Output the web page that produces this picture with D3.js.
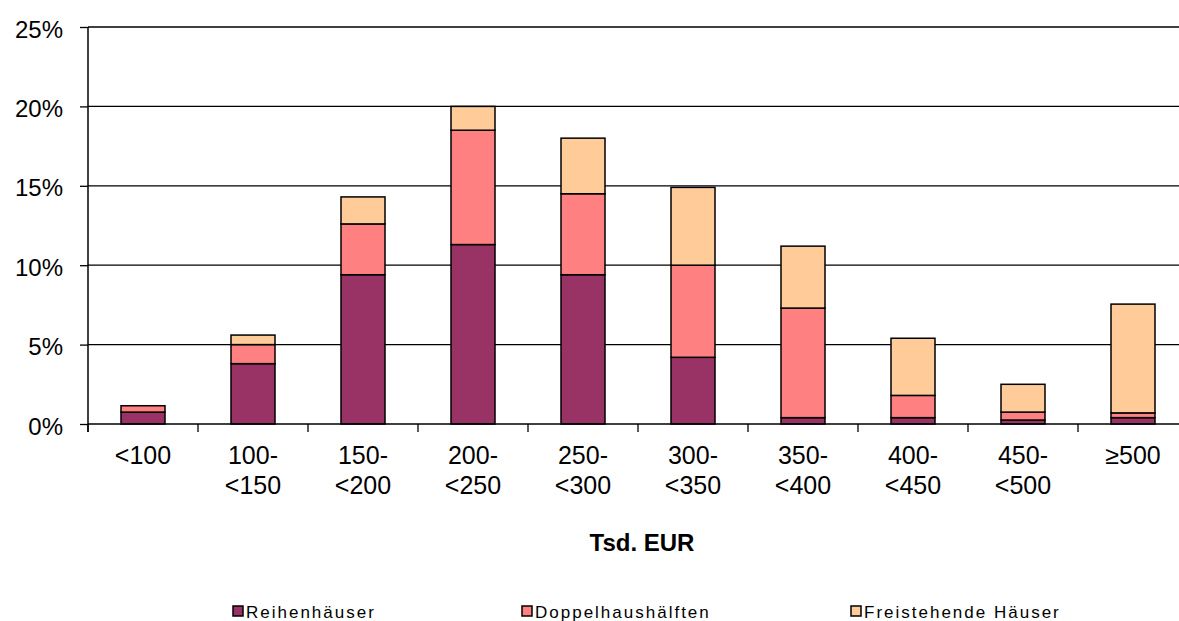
<!DOCTYPE html>
<html><head><meta charset="utf-8">
<script src="https://cdn.jsdelivr.net/npm/d3@7"></script>
<style>
html,body{margin:0;padding:0;background:#fff;overflow:hidden;}
svg{display:block;font-family:Arial,"Liberation Sans",sans-serif;}
</style></head>
<body>
<svg id="chart" width="1179" height="621"></svg>
<script>
const categories = [["<100"],["100-","<150"],["150-","<200"],["200-","<250"],["250-","<300"],["300-","<350"],["350-","<400"],["400-","<450"],["450-","<500"],["≥500"]];
const seriesNames = ["Reihenhäuser","Doppelhaushälften","Freistehende Häuser"];
const reihen = [0.75, 3.8, 9.4, 11.3, 9.4, 4.2, 0.4, 0.4, 0.25, 0.4];
const doppel = [0.4, 1.2, 3.2, 7.2, 5.1, 5.8, 6.9, 1.4, 0.5, 0.3];
const frei   = [0.0, 0.6, 1.7, 1.5, 3.5, 4.9, 3.9, 3.6, 1.75, 6.85];
const yTicks = [0,5,10,15,20,25];
const colors = ["#993366","#FF8080","#FFCC99"];
const xTitle = "Tsd. EUR";

(function(){
const svg = d3.select("#chart");
const pL = 88, pR = 1188, pT = 27, pB = 424;
const x = d3.scaleBand().domain(d3.range(categories.length)).range([pL,pR]).paddingInner(0.6).paddingOuter(0.3);
const xb = d3.scaleBand().domain(d3.range(categories.length)).range([pL,pR]);
const y = d3.scaleLinear().domain([0,25]).range([pB,pT]);

// gridlines
svg.append("g").selectAll("line").data(yTicks.filter(d=>d>0)).join("line")
  .attr("x1",pL).attr("x2",pR).attr("y1",d=>y(d)).attr("y2",d=>y(d))
  .attr("stroke","#000").attr("stroke-width",1.3);

// stacks
const rows = categories.map((c,i)=>({i, "Reihenhäuser":reihen[i], "Doppelhaushälften":doppel[i], "Freistehende Häuser":frei[i]}));
const stack = d3.stack().keys(seriesNames)(rows);
svg.append("g").selectAll("g").data(stack).join("g")
  .attr("fill",(d,k)=>colors[k])
  .selectAll("rect").data(d=>d.filter(s=>s[1]-s[0]>0)).join("rect")
  .attr("x",d=>x(d.data.i)).attr("width",x.bandwidth())
  .attr("y",d=>y(d[1])).attr("height",d=>y(d[0])-y(d[1]))
  .attr("stroke","#000").attr("stroke-width",1.5);

// y axis
const ya = svg.append("g").attr("transform",`translate(${pL},0)`)
  .call(d3.axisLeft(y).tickValues(yTicks).tickFormat(d=>d+"%").tickSize(8).tickSizeOuter(0));
ya.select(".domain").attr("stroke","#000").attr("stroke-width",1.5).attr("d",`M0,${pT}V${pB+8}`);
ya.selectAll(".tick line").attr("stroke","#000").attr("stroke-width",1.3);
ya.selectAll(".tick text").attr("font-size",24).attr("fill","#000").attr("x",-25).attr("dy","0.42em");

// x axis
const xa = svg.append("g");
xa.append("line").attr("x1",pL).attr("x2",pR).attr("y1",pB).attr("y2",pB).attr("stroke","#000").attr("stroke-width",1.5);
xa.selectAll("line.t").data(d3.range(categories.length+1)).join("line").attr("class","t")
  .attr("x1",d=>pL+d*xb.step()).attr("x2",d=>pL+d*xb.step())
  .attr("y1",pB).attr("y2",pB+8).attr("stroke","#000").attr("stroke-width",1.3);
xa.selectAll("text").data(categories).join("text")
  .attr("text-anchor","middle").attr("font-size",25).attr("fill","#000")
  .each(function(c,i){
    const t = d3.select(this);
    c.forEach((s,j)=>t.append("tspan").attr("x",xb(i)+xb.bandwidth()/2).attr("y",464+j*30).text(s));
  });

svg.append("text").attr("x",(pL+pR)/2+4).attr("y",551).attr("text-anchor","middle")
  .attr("font-size",24).attr("font-weight","bold").text(xTitle);

// legend
const legX = [233,522,851];
const lg = svg.append("g").selectAll("g").data(seriesNames).join("g")
  .attr("transform",(d,k)=>`translate(${legX[k]},606)`);
lg.append("rect").attr("width",10).attr("height",10).attr("fill",(d,k)=>colors[k]).attr("stroke","#000").attr("stroke-width",1.5);
lg.append("text").attr("x",13).attr("y",12).attr("font-size",17).attr("letter-spacing","2px").attr("fill","#000").text(d=>d);
})();
</script>
</body></html>
